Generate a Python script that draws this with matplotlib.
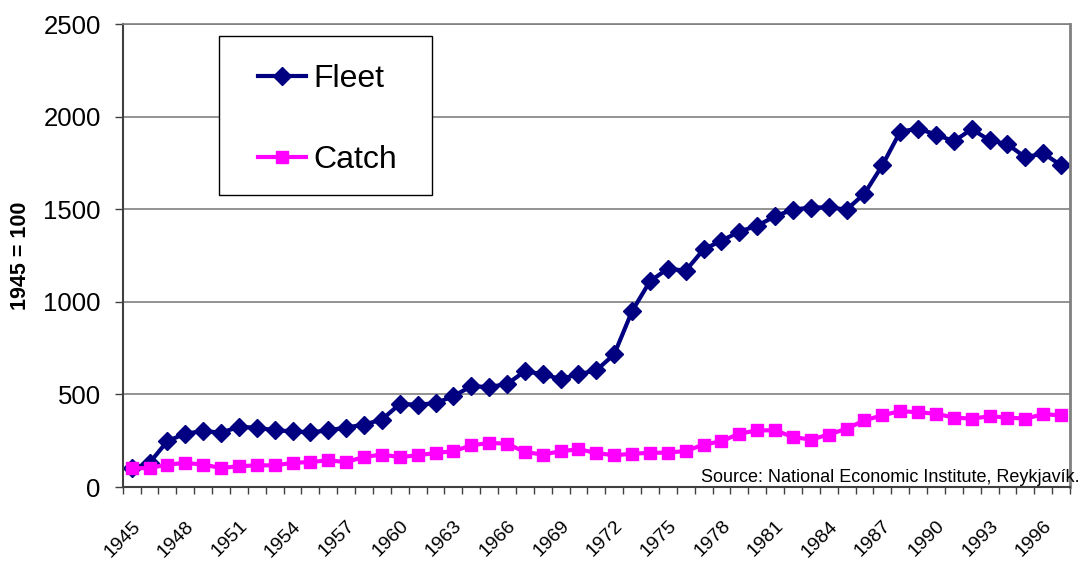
#coding=utf8
# Fleet vs catch index, Iceland 1945-1997 (1945 = 100)
import numpy as np
import matplotlib
matplotlib.use('Agg')
import matplotlib.pyplot as plt
import matplotlib.transforms as mtrans
from matplotlib.patches import Rectangle

years = list(range(1945, 1998))

fleet = [100, 130, 248, 288, 302, 294, 324, 321, 306, 301,
         295, 306, 321, 337, 364, 448, 445, 452, 491, 544,
         540, 556, 625, 609, 583, 609, 630, 717, 950, 1111,
         1179, 1168, 1283, 1330, 1379, 1411, 1462, 1498, 1509, 1510,
         1498, 1584, 1737, 1919, 1935, 1903, 1867, 1932, 1872, 1851,
         1780, 1802, 1737]

catch = [100, 103, 121, 130, 121, 103, 112, 117, 117, 130,
         135, 144, 135, 162, 175, 162, 171, 184, 193, 225,
         238, 234, 189, 175, 193, 204, 184, 171, 180, 184,
         186, 194, 229, 247, 288, 306, 306, 270, 256, 283,
         315, 360, 387, 410, 403, 396, 375, 369, 382, 375,
         369, 393, 387]

labels = [str(y) if (y - 1945) % 3 == 0 else '' for y in years]

myfont = 'Liberation Sans'
gridcolor = '#808080'
axcolor = '#404040'

fig = plt.figure(figsize=(10.85, 5.61), dpi=100)
ax = fig.add_axes([0.1131, 0.1319, 0.8731, 0.8253])

x = np.arange(len(years))
ax.plot(x, fleet, color='#000080', linewidth=3, marker='D', markersize=9, label='Fleet')
ax.plot(x, catch, color='#FF00FF', linewidth=3, marker='s', markersize=8.5, label='Catch')

# Axes limits / ticks
ax.set_xlim(-0.5, len(years) - 0.5)
ax.set_ylim(0, 2500)
ax.set_yticks(np.arange(0, 2501, 500))
ax.yaxis.grid(True, color=gridcolor, linewidth=1.2)
ax.set_axisbelow(True)

ax.set_xticks(x[::3])
ax.set_xticklabels([l for l in labels if l != ''], rotation=45, ha='right', va='top',
                   rotation_mode='anchor', fontname=myfont, fontsize=14)
# shift the rotated labels a bit left, like the original
offset = mtrans.ScaledTranslation(-12 / 100., 0, fig.dpi_scale_trans)
for t in ax.get_xticklabels():
    t.set_transform(t.get_transform() + offset)
ax.set_xticks(np.arange(-0.5, len(years), 1), minor=True)
ax.tick_params(axis='x', which='major', length=0, pad=22)
ax.tick_params(axis='x', which='minor', length=5, width=1, color=axcolor, direction='out')
ax.tick_params(axis='y', length=5.8, width=1, color=axcolor, pad=10)
for t in ax.get_yticklabels():
    t.set_fontname(myfont)
    t.set_fontsize(18.5)

for s in ['left', 'bottom']:
    ax.spines[s].set_color(axcolor)
    ax.spines[s].set_linewidth(1.5)
ax.spines['right'].set_color(gridcolor)
ax.spines['right'].set_linewidth(2)
ax.spines['top'].set_color(gridcolor)
ax.spines['top'].set_linewidth(1.2)

ax.set_ylabel('1945 = 100', fontname=myfont, fontsize=15.5, fontweight='bold', labelpad=8.5)

# Source note
ax.text(1.01, 0.002, 'Source: National Economic Institute, Reykjavík.', transform=ax.transAxes,
        ha='right', va='bottom', fontname=myfont, fontsize=13)

# Legend with its own box
ax.add_patch(Rectangle((0.1017, 0.6307), 0.2248, 0.3433, transform=ax.transAxes,
                       facecolor='white', edgecolor='black', linewidth=1, zorder=5))
leg = ax.legend(loc='center', bbox_to_anchor=(0.2161, 0.794), frameon=False,
                prop={'family': myfont, 'size': 23}, labelspacing=1.6,
                handlelength=1.5, handletextpad=0.25)
leg.set_zorder(6)

fig.savefig('out.png', dpi=100)
